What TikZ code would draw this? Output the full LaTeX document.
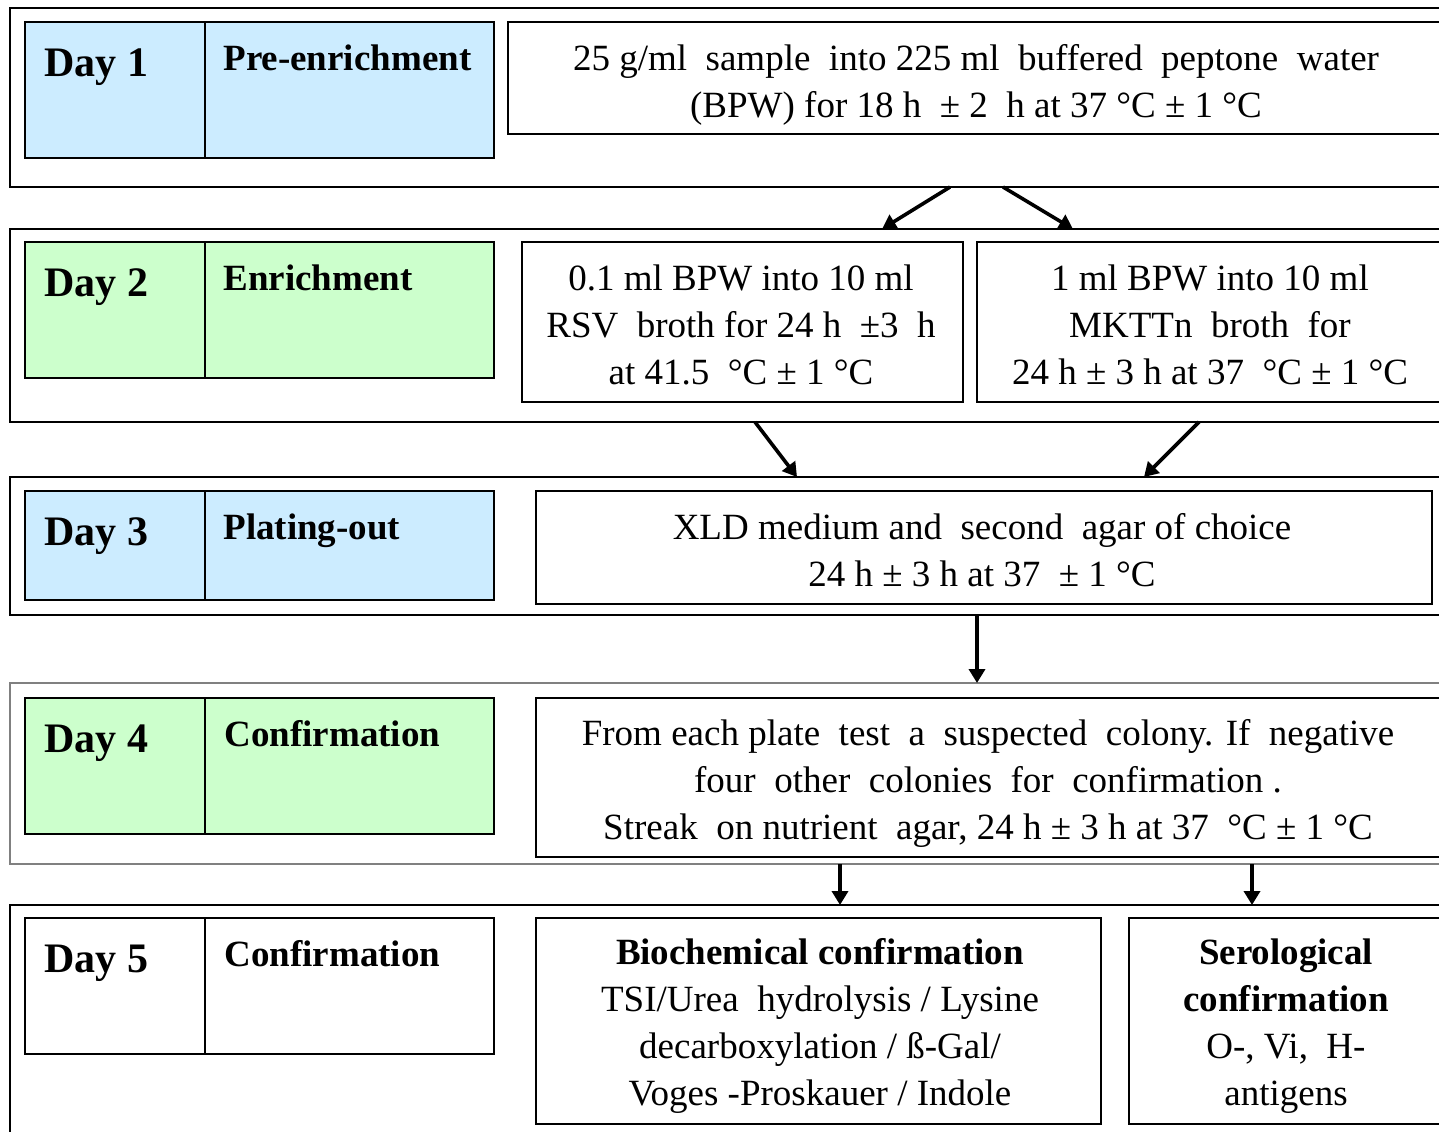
\documentclass[tikz,border=0pt]{standalone}
\usepackage{fontspec}
\setmainfont{Liberation Serif}
\usetikzlibrary{fit,arrows.meta}
\definecolor{dayblue}{HTML}{CCECFF}
\definecolor{daygreen}{HTML}{CCFFCC}
\begin{document}
\begin{tikzpicture}[x=0.5pt,y=-0.5pt,
  frame/.style={draw, line width=0.9pt, inner sep=0pt},
  txt/.style={inner sep=0pt, align=center, font=\fontsize{18.5}{23.5}\selectfont},
  daytxt/.style={anchor=base west, inner sep=0pt, font=\bfseries\fontsize{21}{25}\selectfont},
  steptxt/.style={anchor=base west, inner sep=0pt, font=\bfseries\fontsize{18.5}{23}\selectfont},
  arr/.style={-{Triangle[width=8pt,length=7pt]}, line width=1.8pt}]
\clip (0,0) rectangle (1439,1131);
\fill[white] (0,0) rectangle (1439,1131);

% day 1
\node[frame, fit={(10,8) (1460,187)}] (f1) {};
\node[frame, fill=dayblue, fit={(25,22) (205,158)}] (d1) {};
\node[frame, fill=dayblue, fit={(205,22) (494,158)}] (s1) {};
\node[daytxt] (d1t) at (44,76) {Day 1};
\node[steptxt] (s1t) at (223,70) {Pre-enrichment};
\node[frame, fit={(508,22) (1460,134)}] (c1) {};
\node[txt] (c1t) at (976,85) {25 g/ml\ \ sample\ \ into 225 ml\ \ buffered\ \ peptone\ \ water\\(BPW) for 18 h\ \ ± 2\ \ h at 37 °C ± 1 °C};

% day 2
\node[frame, fit={(10,229) (1460,422)}] (f2) {};
\node[frame, fill=daygreen, fit={(25,242) (205,378)}] (d2) {};
\node[frame, fill=daygreen, fit={(205,242) (494,378)}] (s2) {};
\node[daytxt] (d2t) at (44,296) {Day 2};
\node[steptxt] (s2t) at (223,290) {Enrichment};
\node[frame, fit={(522,242) (963,402)}] (c2a) {};
\node[txt] (c2at) at (741,325) {0.1 ml BPW into 10 ml\\RSV\ \ broth for 24 h\ \ ±3\ \ h\\at 41.5\ \ °C ± 1 °C};
\node[frame, fit={(977,242) (1443,402)}] (c2b) {};
\node[txt] (c2bt) at (1210,325) {1 ml BPW into 10 ml\\MKTTn\ \ broth\ \ for\\24 h ± 3 h at 37\ \ °C ± 1 °C};

% day 3
\node[frame, fit={(10,477) (1460,615)}] (f3) {};
\node[frame, fill=dayblue, fit={(25,491) (205,600)}] (d3) {};
\node[frame, fill=dayblue, fit={(205,491) (494,600)}] (s3) {};
\node[daytxt] (d3t) at (44,545) {Day 3};
\node[steptxt] (s3t) at (223,539) {Plating-out};
\node[frame, fit={(536,491) (1432,604)}] (c3) {};
\node[txt] (c3t) at (982,550) {XLD medium and\ \ second\ \ agar of choice\\24 h ± 3 h at 37\ \ ± 1 °C};

% day 4
\node[frame, draw=gray, fit={(10,683) (1460,864)}] (f4) {};
\node[frame, fill=daygreen, fit={(25,698) (205,834)}] (d4) {};
\node[frame, fill=daygreen, fit={(205,698) (494,834)}] (s4) {};
\node[daytxt] (d4t) at (44,752) {Day 4};
\node[steptxt] (s4t) at (224,746) {Confirmation};
\node[frame, fit={(536,698) (1440,857)}] (c4) {};
\node[txt] (c4t) at (988,783) {From each plate\ \ test\ \ a\ \ suspected\ \ colony. If\ \ negative\\four\ \ other\ \ colonies\ \ for\ \ confirmation .\\Streak\ \ on nutrient\ \ agar, 24 h ± 3 h at 37\ \ °C ± 1 °C};

% day 5
\node[frame, fit={(10,905) (1460,1145)}] (f5) {};
\node[frame, fit={(25,918) (205,1054)}] (d5) {};
\node[frame, fit={(205,918) (494,1054)}] (s5) {};
\node[daytxt] (d5t) at (44,972) {Day 5};
\node[steptxt] (s5t) at (224,966) {Confirmation};
\node[frame, fit={(536,918) (1101,1124)}] (c5a) {};
\node[txt] (c5at) at (820,1026) {\textbf{Biochemical confirmation}\\TSI/Urea\ \ hydrolysis / Lysine\\decarboxylation / ß-Gal/\\Voges -Proskauer / Indole};
\node[frame, fit={(1129,918) (1443,1124)}] (c5b) {};
\node[txt] (c5bt) at (1286,1026) {\textbf{Serological}\\\textbf{confirmation}\\O-, Vi,\ \ H-\\antigens};

% arrows between the days
\coordinate (a1) at (950,187);  \coordinate (b1) at (882,229);
\coordinate (a2) at (1003,187); \coordinate (b2) at (1073,229);
\coordinate (a3) at (755,422);  \coordinate (b3) at (797,477);
\coordinate (a4) at (1199,422); \coordinate (b4) at (1144,477);
\coordinate (a5) at (977,615);  \coordinate (b5) at (977,683);
\coordinate (a6) at (840,864);  \coordinate (b6) at (840,905);
\coordinate (a7) at (1252,864); \coordinate (b7) at (1252,905);
\draw[arr] (a1) -- (b1);
\draw[arr] (a2) -- (b2);
\draw[arr] (a3) -- (b3);
\draw[arr] (a4) -- (b4);
\draw[arr] (a5) -- (b5);
\draw[arr] (a6) -- (b6);
\draw[arr] (a7) -- (b7);
\end{tikzpicture}
\end{document}
